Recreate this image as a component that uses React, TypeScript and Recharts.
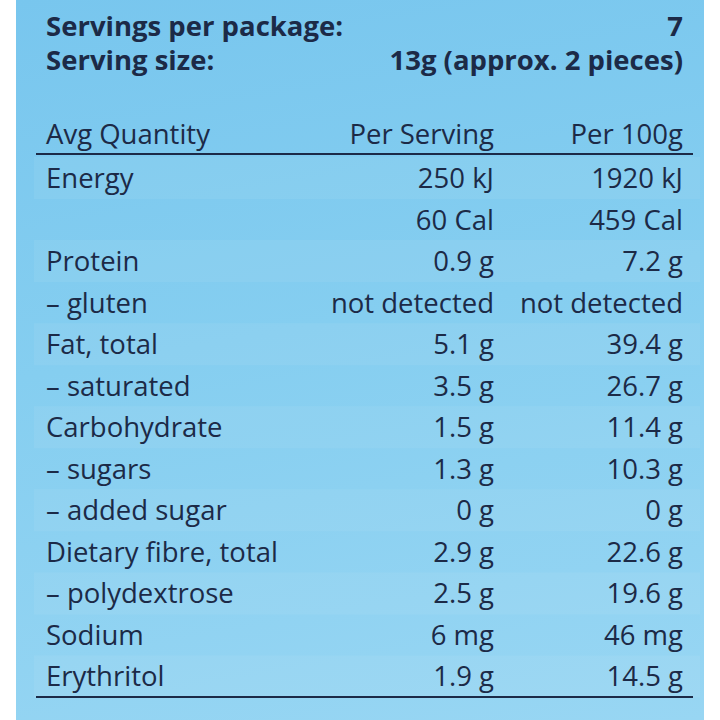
import React from 'react';
import { BarChart, Bar, XAxis, YAxis, Cell, LabelList } from 'recharts';

const servingsPerPackage = '7';
const servingSize = '13g (approx. 2 pieces)';
const columnHeads = ['Avg Quantity', 'Per Serving', 'Per 100g'];

const rowLabels = [
  'Energy',
  '',
  'Protein',
  '– gluten',
  'Fat, total',
  '– saturated',
  'Carbohydrate',
  '– sugars',
  '– added sugar',
  'Dietary fibre, total',
  '– polydextrose',
  'Sodium',
  'Erythritol',
];
const perServing = [
  '250 kJ', '60 Cal', '0.9 g', 'not detected', '5.1 g', '3.5 g', '1.5 g',
  '1.3 g', '0 g', '2.9 g', '2.5 g', '6 mg', '1.9 g',
];
const per100g = [
  '1920 kJ', '459 Cal', '7.2 g', 'not detected', '39.4 g', '26.7 g', '11.4 g',
  '10.3 g', '0 g', '22.6 g', '19.6 g', '46 mg', '14.5 g',
];

// every row gets a full-width band so the stripes come from the bar scale
const data = rowLabels.map((label, i) => ({
  label,
  band: 1,
  serving: perServing[i],
  hundred: per100g[i],
}));

const FONT = '"Open Sans", sans-serif';
const INK = '#1c2a47';
const SIZE = 27.5;

// column anchors inside the panel (panel starts at page x = 16)
const LEFT_X = 30;
const SERVING_X = 478;
const HUNDRED_X = 667;

const CellText = (key: 'label' | 'serving' | 'hundred', anchorX: number, anchor: 'start' | 'end') => (props: any) => {
  const { y, height, index } = props;
  return (
    <text x={anchorX} y={y + height / 2 + 10} fill={INK} fontFamily={FONT} fontSize={SIZE} textAnchor={anchor}>
      {data[index][key]}
    </text>
  );
};

export default function App() {
  return (
    <div style={{ position: 'absolute', left: 0, top: 0, width: 720, height: 720, background: '#ffffff' }}>
      <div
        style={{
          position: 'absolute',
          left: 16,
          top: 0,
          width: 688,
          height: 720,
          background: 'linear-gradient(170deg, #78c6ee 0%, #85cef0 45%, #98d6f3 100%)',
        }}
      >
        <svg width={688} height={160} style={{ position: 'absolute', left: 0, top: 0 }}>
          <g fontFamily={FONT} fill={INK} fontSize={SIZE} fontWeight={700}>
            <text x={LEFT_X} y={36}>Servings per package:</text>
            <text x={HUNDRED_X} y={36} textAnchor="end">{servingsPerPackage}</text>
            <text x={LEFT_X} y={70}>Serving size:</text>
            <text x={HUNDRED_X} y={70} textAnchor="end">{servingSize}</text>
          </g>
          <g fontFamily={FONT} fill={INK} fontSize={SIZE}>
            <text x={LEFT_X} y={144}>{columnHeads[0]}</text>
            <text x={SERVING_X} y={144} textAnchor="end">{columnHeads[1]}</text>
            <text x={HUNDRED_X} y={144} textAnchor="end">{columnHeads[2]}</text>
          </g>
          <rect x={20} y={153} width={657} height={2} fill={INK} />
        </svg>
        <BarChart
          width={688}
          height={720}
          data={data}
          layout="vertical"
          margin={{ top: 157, right: 4, bottom: 23, left: 18 }}
          barCategoryGap={0}
          style={{ position: 'absolute', left: 0, top: 0 }}
        >
          <XAxis type="number" domain={[0, 1]} hide />
          <YAxis type="category" dataKey="label" hide />
          <Bar dataKey="band" isAnimationActive={false}>
            {data.map((_, i) => (
              <Cell key={i} fill={i % 2 === 0 ? 'rgba(255,255,255,0.06)' : 'rgba(255,255,255,0)'} />
            ))}
            <LabelList dataKey="label" content={CellText('label', LEFT_X, 'start')} />
            <LabelList dataKey="serving" content={CellText('serving', SERVING_X, 'end')} />
            <LabelList dataKey="hundred" content={CellText('hundred', HUNDRED_X, 'end')} />
          </Bar>
        </BarChart>
        <div style={{ position: 'absolute', left: 20, top: 696, width: 657, height: 2, background: INK }} />
      </div>
    </div>
  );
}
